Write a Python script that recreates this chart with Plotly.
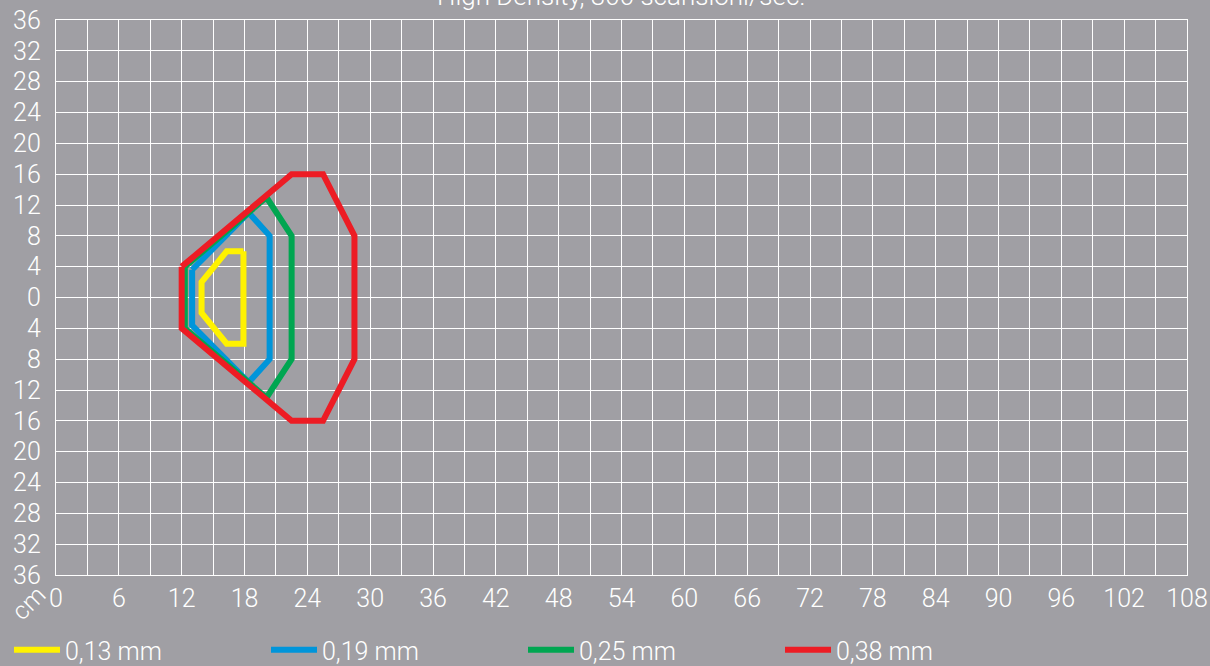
import plotly.graph_objects as go

# Data: reading zones (distance x in cm, half-width y in cm)
labels = ["0,13 mm", "0,19 mm", "0,25 mm", "0,38 mm"]
colors = ["#fff200", "#0095da", "#00a651", "#ed1c24"]

x_013 = [17.9, 16.3, 13.9, 13.9, 16.3, 17.9, 17.9]
y_013 = [6, 6, 2, -2, -6, -6, 6]

x_019 = [13.0, 18.4, 20.4, 20.4, 18.4, 13.0, 13.0]
y_019 = [3.6, 11, 8, -8, -11, -3.6, 3.6]

x_025 = [12.3, 20.1, 22.5, 22.5, 20.1, 12.3, 12.3]
y_025 = [4, 13, 8, -8, -13, -4, 4]

x_038 = [12, 22.5, 25.5, 28.5, 28.5, 25.5, 22.5, 12, 12]
y_038 = [4, 16, 16, 8, -8, -16, -16, -4, 4]

xs = [x_013, x_019, x_025, x_038]
ys = [y_013, y_019, y_025, y_038]

y_ticks = list(range(-36, 37, 4))
y_ticktext = [str(abs(v)) for v in y_ticks]
x_ticks = list(range(0, 109, 6))

BG = "#a09fa4"
FAM = "Roboto"
FONT = dict(family=FAM, size=25, color="white", weight=300)

W, H = 1210, 666
ML, MR, MT, MB = 56, 23, 20, 91
PH = H - MT - MB

fig = go.Figure()
for x, y, lab, col in zip(xs, ys, labels, colors):
    fig.add_trace(go.Scatter(x=x, y=y, mode="lines", name=lab,
                             line=dict(color=col, width=6),
                             hoverinfo="skip"))

fig.update_layout(
    width=W, height=H, autosize=False,
    paper_bgcolor=BG, plot_bgcolor=BG,
    margin=dict(l=ML, r=MR, t=MT, b=MB, pad=0),
    font=FONT,
    showlegend=True,
    legend=dict(orientation="h", xref="container", yref="container",
                x=9 / W, xanchor="left", y=1 - 650 / H, yanchor="middle",
                itemwidth=46, entrywidth=196, entrywidthmode="pixels",
                font=dict(family=FAM, size=25, color="white", weight=300),
                bgcolor="rgba(0,0,0,0)", itemclick=False, itemdoubleclick=False),
)

fig.update_xaxes(range=[0, 108], tickvals=x_ticks, showgrid=True, automargin=False,
                 gridcolor="white", gridwidth=1.3,
                 minor=dict(dtick=3, tick0=0, showgrid=True, gridcolor="white", gridwidth=1.3),
                 zeroline=False, showline=True, linecolor="white", linewidth=1.3, mirror=True,
                 ticks="", ticklabelstandoff=1, tickfont=FONT, fixedrange=True)
fig.update_yaxes(range=[-36, 36], tickvals=y_ticks, ticktext=y_ticktext, showgrid=True,
                 automargin=False,
                 gridcolor="white", gridwidth=1.3, zeroline=True, zerolinecolor="white",
                 zerolinewidth=1.3, showline=True, linecolor="white", linewidth=1.3, mirror=True,
                 ticks="", ticklabelstandoff=9, tickfont=FONT, fixedrange=True)

fig.add_annotation(text="High Density, 300 scansioni/sec.", xref="paper", yref="paper",
                   x=0.5, y=1 + (MT + 4) / PH, xanchor="center", yanchor="middle",
                   showarrow=False,
                   font=dict(family=FAM, size=26, color="white", weight=300))
fig.add_annotation(text="cm", xref="paper", yref="paper",
                   x=(28 - ML) / (W - ML - MR), y=1 + (MT - 603) / PH,
                   xanchor="center", yanchor="middle",
                   textangle=-45, showarrow=False,
                   font=dict(family=FAM, size=25, color="white", weight=300))

fig.write_html("out.html", config={"displayModeBar": False},
               post_script="document.body.style.margin='0';document.body.style.overflow='hidden';")
